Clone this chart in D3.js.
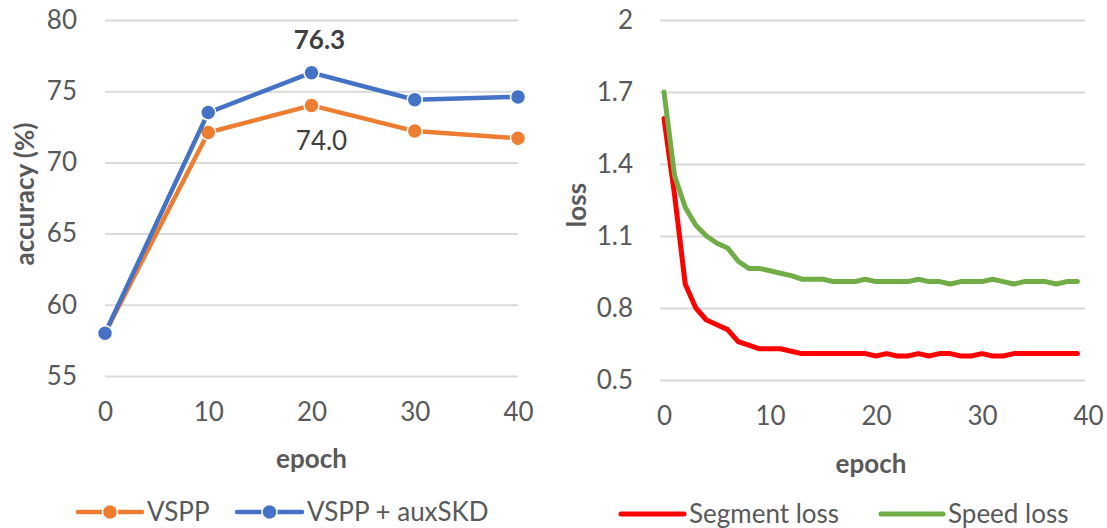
<!DOCTYPE html>
<html>
<head>
<meta charset="utf-8">
<script src="https://cdn.jsdelivr.net/npm/d3@7"></script>
<style>
  body { margin: 0; background: #fff; }
  text { font-family: Lato, "Open Sans", sans-serif; fill: #595959; }
</style>
</head>
<body>
<svg width="1107" height="528"></svg>
<script>
// left chart data
const epochs = [0, 10, 20, 30, 40];
const vspp = [58.0, 72.1, 74.0, 72.2, 71.7];
const vsppAux = [58.0, 73.5, 76.3, 74.4, 74.6];
const accTicks = [55, 60, 65, 70, 75, 80];

// right chart data (epoch 0..39)
const segmentLoss = [1.59, 1.27, 0.90, 0.80, 0.75, 0.73, 0.71, 0.66, 0.645, 0.63,
                     0.63, 0.63, 0.62, 0.61, 0.61, 0.61, 0.61, 0.61, 0.61, 0.61,
                     0.60, 0.61, 0.60, 0.60, 0.61, 0.60, 0.61, 0.61, 0.60, 0.60,
                     0.61, 0.60, 0.60, 0.61, 0.61, 0.61, 0.61, 0.61, 0.61, 0.61];
const speedLoss = [1.70, 1.35, 1.22, 1.145, 1.10, 1.07, 1.05, 0.995, 0.965, 0.965,
                   0.955, 0.945, 0.935, 0.92, 0.92, 0.92, 0.91, 0.91, 0.91, 0.92,
                   0.91, 0.91, 0.91, 0.91, 0.92, 0.91, 0.91, 0.90, 0.91, 0.91,
                   0.91, 0.92, 0.91, 0.90, 0.91, 0.91, 0.91, 0.90, 0.91, 0.91];
const lossTicks = [0.5, 0.8, 1.1, 1.4, 1.7, 2];
const epochTicks = [0, 10, 20, 30, 40];

const orange = '#ED7D31', blue = '#4472C4', red = '#FF0000', green = '#70AD47';
const grid = '#d9d9d9';
const fs = 26;

const svg = d3.select('svg');

// ---------- left chart ----------
const xL = d3.scaleLinear().domain([0, 40]).range([105, 518]);
const yL = d3.scaleLinear().domain([55, 80]).range([376, 20]);

const gl = svg.append('g');

gl.append('g')
  .attr('transform', `translate(${xL(0)},0)`)
  .call(d3.axisLeft(yL).tickValues(accTicks).tickSize(-(xL(40) - xL(0))).tickPadding(28))
  .call(g => g.select('.domain').remove())
  .call(g => g.selectAll('.tick line').attr('stroke', grid).attr('stroke-width', 2))
  .call(g => g.selectAll('.tick text').attr('font-size', fs).style('font-family', null));

gl.append('g')
  .attr('transform', `translate(0,${yL(55)})`)
  .call(d3.axisBottom(xL).tickValues(epochs).tickSize(0).tickPadding(27))
  .call(g => g.select('.domain').remove())
  .call(g => g.selectAll('.tick text').attr('font-size', fs).style('font-family', null));

const lineL = d3.line().x((d, i) => xL(epochs[i])).y(d => yL(d));

[[vspp, orange], [vsppAux, blue]].forEach(([vals, c]) => {
  gl.append('path').attr('d', lineL(vals))
    .attr('fill', 'none').attr('stroke', c).attr('stroke-width', 4.5)
    .attr('stroke-linejoin', 'round').attr('stroke-linecap', 'round');
  gl.selectAll(null).data(vals).enter().append('circle')
    .attr('cx', (d, i) => xL(epochs[i])).attr('cy', d => yL(d))
    .attr('r', 7.5).attr('fill', c).attr('stroke', '#fff').attr('stroke-width', 1.5);
});

gl.append('text').attr('x', xL(20) + 8).attr('y', yL(76.3) - 24)
  .attr('text-anchor', 'middle').attr('font-size', fs).attr('font-weight', 'bold')
  .style('fill', '#404040').text('76.3');
gl.append('text').attr('x', xL(20) + 10).attr('y', yL(74.0) + 45)
  .attr('text-anchor', 'middle').attr('font-size', fs)
  .style('fill', '#404040').text('74.0');

gl.append('text').attr('transform', 'translate(34,194) rotate(-90)')
  .attr('text-anchor', 'middle').attr('font-size', fs).attr('font-weight', 'bold')
  .text('accuracy (%)');
gl.append('text').attr('x', xL(20)).attr('y', 468)
  .attr('text-anchor', 'middle').attr('font-size', fs).attr('font-weight', 'bold')
  .text('epoch');

// legend left
const legL = [['VSPP', orange, 78, 142], ['VSPP + auxSKD', blue, 237, 302]];
legL.forEach(([name, c, x0, x1]) => {
  gl.append('line').attr('x1', x0).attr('x2', x1).attr('y1', 512).attr('y2', 512)
    .attr('stroke', c).attr('stroke-width', 4.5).attr('stroke-linecap', 'round');
  gl.append('circle').attr('cx', (x0 + x1) / 2).attr('cy', 512).attr('r', 7.5)
    .attr('fill', c).attr('stroke', '#fff').attr('stroke-width', 1.5);
  gl.append('text').attr('x', x1 + 5).attr('y', 512).attr('dy', '0.35em')
    .attr('font-size', fs).text(name);
});

// ---------- right chart ----------
const xR = d3.scaleLinear().domain([0, 40]).range([664, 1088]);
const yR = d3.scaleLinear().domain([0.5, 2]).range([380, 20]);

const gr = svg.append('g');

gr.append('g')
  .attr('transform', 'translate(660,0)')
  .call(d3.axisLeft(yR).tickValues(lossTicks).tickFormat(d3.format('')).tickSize(-425).tickPadding(27))
  .call(g => g.select('.domain').remove())
  .call(g => g.selectAll('.tick line').attr('stroke', grid).attr('stroke-width', 2))
  .call(g => g.selectAll('.tick text').attr('font-size', fs).style('font-family', null));

gr.append('g')
  .attr('transform', `translate(0,${yR(0.5)})`)
  .call(d3.axisBottom(xR).tickValues(epochTicks).tickSize(0).tickPadding(27))
  .call(g => g.select('.domain').remove())
  .call(g => g.selectAll('.tick text').attr('font-size', fs).style('font-family', null));

const lineR = d3.line().x((d, i) => xR(i)).y(d => yR(d));

[[segmentLoss, red], [speedLoss, green]].forEach(([vals, c]) => {
  gr.append('path').attr('d', lineR(vals))
    .attr('fill', 'none').attr('stroke', c).attr('stroke-width', 5)
    .attr('stroke-linejoin', 'round').attr('stroke-linecap', 'round');
});

gr.append('text').attr('transform', 'translate(586,205) rotate(-90)')
  .attr('text-anchor', 'middle').attr('font-size', fs).attr('font-weight', 'bold')
  .text('loss');
gr.append('text').attr('x', 871).attr('y', 473)
  .attr('text-anchor', 'middle').attr('font-size', fs).attr('font-weight', 'bold')
  .text('epoch');

const legR = [['Segment loss', red, 621, 684], ['Speed loss', green, 881, 943]];
legR.forEach(([name, c, x0, x1]) => {
  gr.append('line').attr('x1', x0).attr('x2', x1).attr('y1', 514).attr('y2', 514)
    .attr('stroke', c).attr('stroke-width', 5).attr('stroke-linecap', 'round');
  gr.append('text').attr('x', x1 + 5).attr('y', 514).attr('dy', '0.35em')
    .attr('font-size', fs).text(name);
});
</script>
</body>
</html>
